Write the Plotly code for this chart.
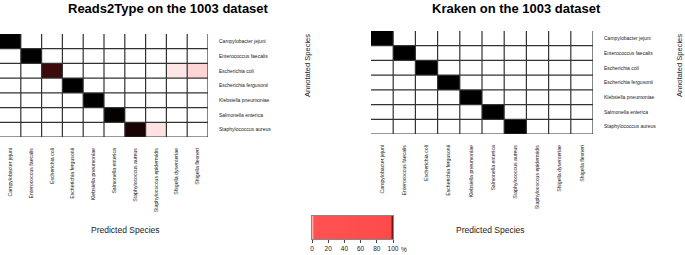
import plotly.graph_objects as go

# ---------------- data ----------------
predicted_species = [
    "Campylobacter jejuni", "Enterococcus faecalis", "Escherichia coli",
    "Escherichia fergusonii", "Klebsiella pneumoniae", "Salmonella enterica",
    "Staphylococcus aureus", "Staphylococcus epidermidis",
    "Shigella dysenteriae", "Shigella flexneri",
]
annotated_species = [
    "Campylobacter jejuni", "Enterococcus faecalis", "Escherichia coli",
    "Escherichia fergusonii", "Klebsiella pneumoniae", "Salmonella enterica",
    "Staphylococcus aureus",
]
# percent of isolates (rows: annotated, columns: predicted)
reads2type_pct = [
    [100, 0, 0, 0, 0, 0, 0, 0, 0, 0],
    [0, 100, 0, 0, 0, 0, 0, 0, 0, 0],
    [0, 0, 88, 0, 0, 0, 0, 0, 4, 8],
    [0, 0, 0, 100, 0, 0, 0, 0, 0, 0],
    [0, 0, 0, 0, 100, 0, 0, 0, 0, 0],
    [0, 0, 0, 0, 0, 99, 0, 0, 0, 0],
    [0, 0, 0, 0, 0, 0, 95, 5, 0, 0],
]
kraken_pct = [
    [100, 0, 0, 0, 0, 0, 0, 0, 0, 0],
    [0, 100, 0, 0, 0, 0, 0, 0, 0, 0],
    [0, 0, 100, 0, 0, 0, 0, 0, 0, 0],
    [0, 0, 0, 100, 0, 0, 0, 0, 0, 0],
    [0, 0, 0, 0, 100, 0, 0, 0, 0, 0],
    [0, 0, 0, 0, 0, 100, 0, 0, 0, 0],
    [0, 0, 0, 0, 0, 0, 100, 0, 0, 0],
]
scale_ticks = [0, 20, 40, 60, 80, 100]
scale_ticktext = ["0", "20", "40", "60", "80", "100"]

titles = ["Reads2Type on the 1003 dataset", "Kraken on the 1003 dataset"]

# ---------------- style ----------------
FONT = "Liberation Sans, Arial, sans-serif"
W, H = 685, 255
cell_scale = [
    [0.0, "#ffffff"], [0.04, "#fde6e6"], [0.08, "#ffd4d4"],
    [0.5, "#ff4f4f"], [0.85, "#4a0c0c"], [1.0, "#000000"],
]
bar_scale = [
    [0.0, "#ffe6e6"], [0.025, "#ff5252"], [0.97, "#ff4a4a"], [1.0, "#2a0000"],
]

def px_x(a, b):
    return [a / W, b / W]

def px_y(top, bottom):
    return [1 - bottom / H, 1 - top / H]

panels = [
    dict(z=reads2type_pct, xd=px_x(0, 208), yd=px_y(34, 137), xa="x", ya="y",
         title_x=168, annot_x=308, pred_x=126),
    dict(z=kraken_pct, xd=px_x(371, 593), yd=px_y(31, 134), xa="x2", ya="y2",
         title_x=516, annot_x=680, pred_x=491),
]

fig = go.Figure()
shapes = []
annotations = []
nc, nr = len(predicted_species), len(annotated_species)

for i, p in enumerate(panels):
    fig.add_trace(go.Heatmap(
        z=p["z"], x=list(range(nc)), y=list(range(nr)),
        colorscale=cell_scale, zmin=0, zmax=100, showscale=False,
        xaxis=p["xa"], yaxis=p["ya"], hoverinfo="skip",
    ))
    suffix = "" if i == 0 else "2"
    fig.update_layout(**{
        f"xaxis{suffix}": dict(
            domain=p["xd"], range=[-0.5, nc - 0.5], automargin=False,
            tickmode="array", tickvals=list(range(nc)), ticktext=predicted_species,
            tickangle=-90, tickfont=dict(size=5.2, family=FONT, color="#222"),
            ticks="", ticklabelstandoff=9, showgrid=False, zeroline=False,
            showline=False, anchor="y" + suffix, fixedrange=True,
        ),
        f"yaxis{suffix}": dict(
            domain=p["yd"], range=[nr - 0.5, -0.5], automargin=False,
            tickmode="array", tickvals=list(range(nr)), ticktext=annotated_species,
            side="right", tickfont=dict(size=5, family=FONT, color="#222"),
            ticks="", ticklabelstandoff=10, showgrid=False, zeroline=False,
            showline=False, anchor="x" + suffix, fixedrange=True,
        ),
    })
    xr, yr = p["xa"], p["ya"]
    for c in range(1, nc + 1):
        shapes.append(dict(type="line", xref=xr, yref=yr, x0=c - 0.5, x1=c - 0.5,
                           y0=-0.5, y1=nr - 0.5, line=dict(color="#333", width=1.2)))
    for r in range(1, nr + 1):
        shapes.append(dict(type="line", xref=xr, yref=yr, x0=-0.5, x1=nc - 0.5,
                           y0=r - 0.5, y1=r - 0.5, line=dict(color="#333", width=1.2)))
    annotations.append(dict(
        text="<b>" + titles[i] + "</b>", xref="paper", yref="paper",
        x=p["title_x"] / W, y=1 - 8 / H, xanchor="center", yanchor="middle",
        showarrow=False, font=dict(size=13, family=FONT, color="#000"),
    ))
    annotations.append(dict(
        text="Annotated Species", xref="paper", yref="paper",
        x=p["annot_x"] / W, y=1 - 66 / H, xanchor="center", yanchor="middle",
        textangle=-90, showarrow=False, font=dict(size=7.5, family=FONT, color="#222"),
    ))
    annotations.append(dict(
        text="Predicted Species", xref="paper", yref="paper",
        x=p["pred_x"] / W, y=1 - 230 / H, xanchor="center", yanchor="middle",
        showarrow=False, font=dict(size=8.5, family=FONT, color="#222"),
    ))

# colour-key bar
bar_z = [list(range(0, 101))]
fig.add_trace(go.Heatmap(
    z=bar_z, x=list(range(0, 101)), y=[0], colorscale=bar_scale,
    zmin=0, zmax=100, showscale=False, xaxis="x3", yaxis="y3", hoverinfo="skip",
))
fig.update_layout(
    xaxis3=dict(domain=px_x(312, 393), range=[0, 100], tickmode="array",
                tickvals=scale_ticks, ticktext=scale_ticktext, ticks="outside",
                ticklen=3, tickcolor="#444", tickwidth=0.8, automargin=False,
                tickfont=dict(size=6.5, family=FONT, color="#222"),
                showline=True, mirror=True, linecolor="#888", linewidth=0.8,
                showgrid=False, zeroline=False, anchor="y3", fixedrange=True),
    yaxis3=dict(domain=px_y(216, 239), range=[-0.5, 0.5], showticklabels=False,
                ticks="", showline=True, mirror=True, linecolor="#888",
                linewidth=0.8, showgrid=False, zeroline=False, anchor="x3",
                fixedrange=True, automargin=False),
)
annotations.append(dict(
    text="%", xref="paper", yref="paper", x=403.5 / W, y=1 - 249 / H,
    xanchor="center", yanchor="middle", showarrow=False,
    font=dict(size=6.5, family=FONT, color="#222"),
))

fig.update_layout(
    width=W, height=H, margin=dict(l=0, r=0, t=0, b=0, autoexpand=False),
    paper_bgcolor="white", plot_bgcolor="white",
    shapes=shapes, annotations=annotations, showlegend=False,
)
fig.write_html(
    "out.html",
    config={"displayModeBar": False},
    post_script="document.body.style.margin='0';document.body.style.padding='0';"
                "document.body.style.overflow='hidden';",
)
